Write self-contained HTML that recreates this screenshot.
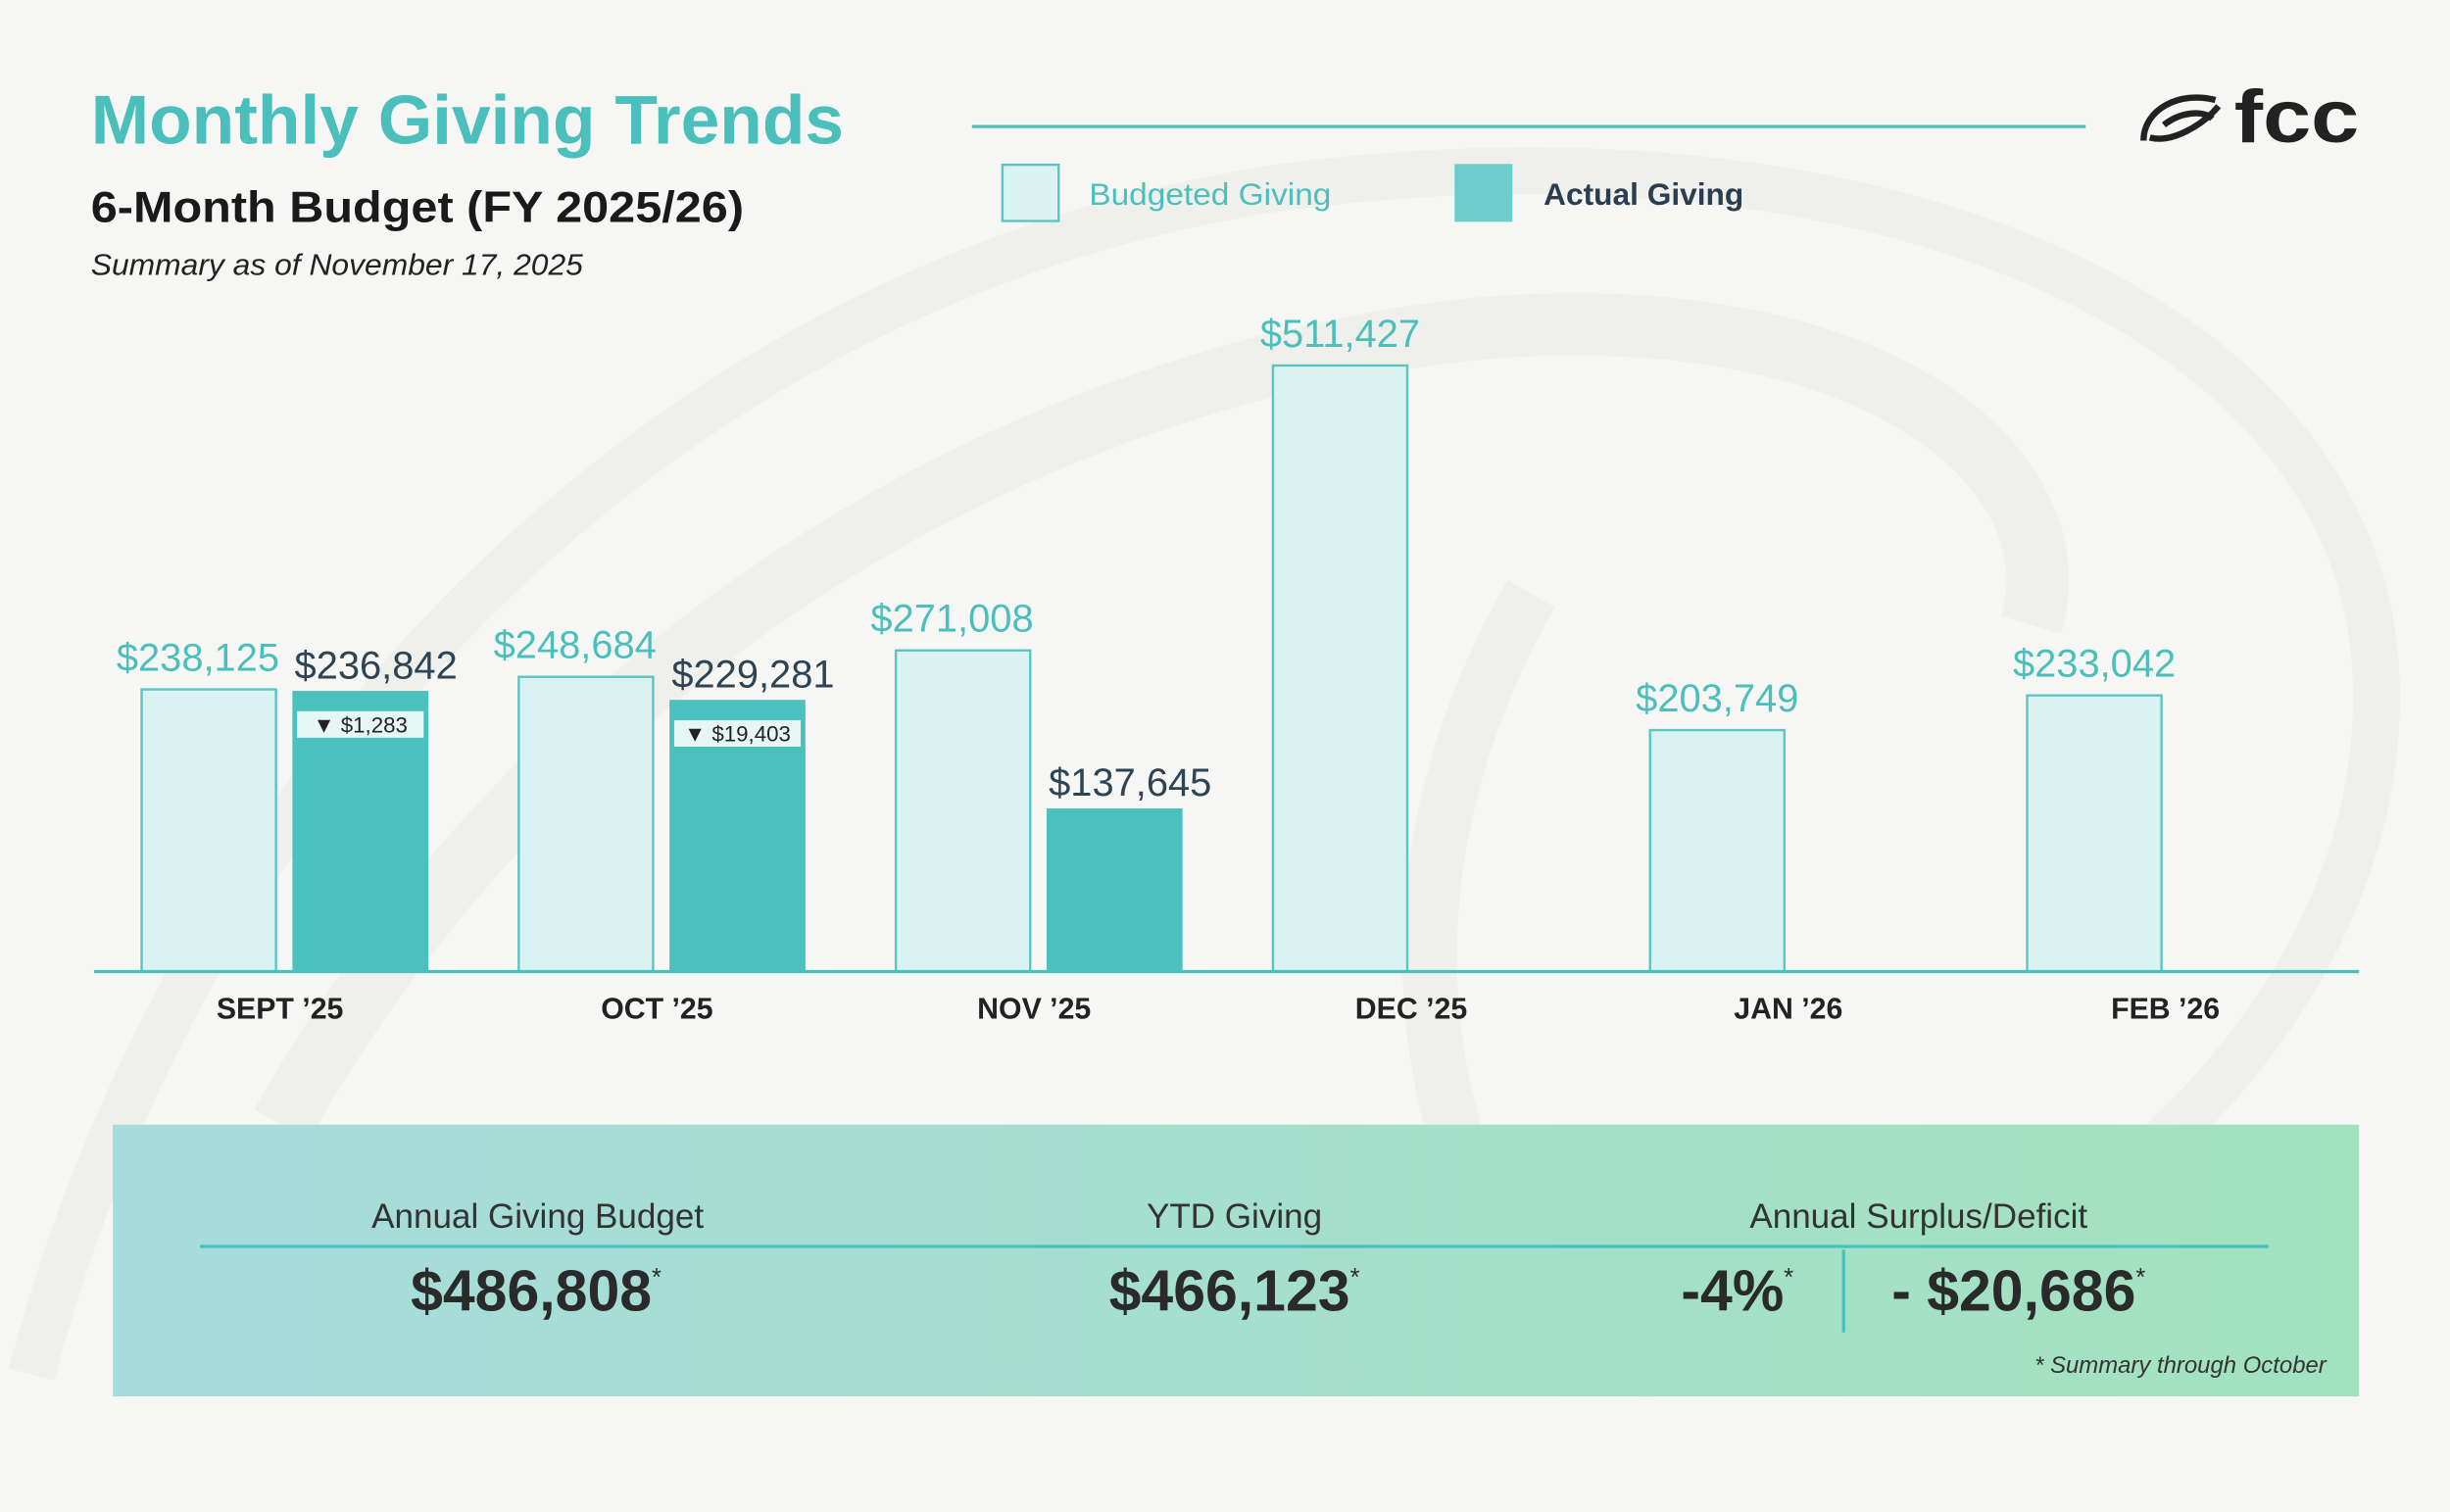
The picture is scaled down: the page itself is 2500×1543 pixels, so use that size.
<!DOCTYPE html>
<html><head><meta charset="utf-8">
<style>
html,body{margin:0;padding:0;background:#f6f6f5;width:2500px;height:1543px;overflow:hidden;}
svg{display:block;}
text{font-family:"Liberation Sans",sans-serif;}
</style></head>
<body>
<svg id="chart" width="2500" height="1543" viewBox="0 0 1568 968" xmlns="http://www.w3.org/2000/svg">
<defs>
<linearGradient id="panelGrad" x1="0" x2="1" y1="0" y2="0">
<stop offset="0" stop-color="#a7dcdc"/><stop offset="1" stop-color="#a3e2bf"/>
</linearGradient>
</defs>
<rect x="0" y="0" width="1568" height="968" fill="#f6f6f5"/>
<g fill="none" stroke="#efefec">
<path d="M20 880 C120 500 420 180 820 120 C1200 70 1500 200 1520 420 C1540 650 1300 860 1050 880" stroke-width="30"/>
<path d="M180 720 C350 420 650 240 950 210 C1200 190 1330 300 1300 400" stroke-width="40"/>
<path d="M980 380 C900 520 880 700 1000 860" stroke-width="35"/>
</g>
<text x="58" y="92" font-size="44" font-weight="bold" fill="#4bbfbb" textLength="482" lengthAdjust="spacingAndGlyphs">Monthly Giving Trends</text>
<text x="58" y="142" font-size="28" font-weight="bold" fill="#1a1a1a" textLength="418" lengthAdjust="spacingAndGlyphs">6-Month Budget (FY 2025/26)</text>
<text x="58" y="176" font-size="19" font-style="italic" fill="#222" textLength="315" lengthAdjust="spacingAndGlyphs">Summary as of November 17, 2025</text>
<line x1="622" y1="81" x2="1335" y2="81" stroke="#4bbfbb" stroke-width="2"/>
<g>
<rect x="641.5" y="105.5" width="36" height="36" fill="#d9f2f2" stroke="#5cc5c2" stroke-width="1.5"/>
<text x="697" y="131" font-size="20" fill="#4bbfbb" textLength="155" lengthAdjust="spacingAndGlyphs">Budgeted Giving</text>
<rect x="931" y="105" width="37" height="37" fill="#6ccdcb"/>
<text x="988" y="131" font-size="20" font-weight="bold" fill="#2b3e50" textLength="128" lengthAdjust="spacingAndGlyphs">Actual Giving</text>
</g>
<g>
<path d="M1372 90 C1372 70 1395 58 1418 64 M1376 88 C1390 92 1410 80 1420 68 M1385 80 C1395 72 1410 70 1416 76" fill="none" stroke="#222" stroke-width="4"/>
<text x="1430" y="91" font-size="48" font-weight="bold" fill="#222" textLength="80" lengthAdjust="spacingAndGlyphs">fcc</text>
</g>
<g id="bars"></g>
<line x1="60" y1="622" x2="1510" y2="622" stroke="#4bbfbb" stroke-width="2"/>
<g>
<rect x="72" y="720" width="1438" height="174" fill="url(#panelGrad)"/>
<text x="344" y="786" font-size="22" text-anchor="middle" fill="#333">Annual Giving Budget</text>
<text x="790" y="786" font-size="22" text-anchor="middle" fill="#333">YTD Giving</text>
<text x="1228" y="786" font-size="22" text-anchor="middle" fill="#333">Annual Surplus/Deficit</text>
<line x1="128" y1="798" x2="1452" y2="798" stroke="#4bbfbb" stroke-width="2"/>
<line x1="1180" y1="800" x2="1180" y2="853" stroke="#4bbfbb" stroke-width="2"/>
<text x="343" y="839" font-size="37" font-weight="bold" text-anchor="middle" fill="#2a2a2a">$486,808<tspan font-size="16" dy="-16" font-weight="normal">*</tspan></text>
<text x="790" y="839" font-size="37" font-weight="bold" text-anchor="middle" fill="#2a2a2a">$466,123<tspan font-size="16" dy="-16" font-weight="normal">*</tspan></text>
<text x="1112" y="839" font-size="37" font-weight="bold" text-anchor="middle" fill="#2a2a2a">-4%<tspan font-size="16" dy="-16" font-weight="normal">*</tspan></text>
<text x="1292" y="839" font-size="37" font-weight="bold" text-anchor="middle" fill="#2a2a2a">- $20,686<tspan font-size="16" dy="-16" font-weight="normal">*</tspan></text>
<text x="1489" y="879" font-size="15" font-style="italic" text-anchor="end" fill="#333">*  Summary through October</text>
</g>
</svg>
<script>
const months = ["SEPT \u201925","OCT \u201925","NOV \u201925","DEC \u201925","JAN \u201926","FEB \u201926"];
const budget = [238125, 248684, 271008, 511427, 203749, 233042];
const actual = [236842, 229281, 137645, null, null, null];
const showDiff = [true, true, false, false, false, false];

const NS = "http://www.w3.org/2000/svg";
const g = document.getElementById('bars');
const baseY = 622, pxPerUnit = 388 / 511427;
const x0 = 90, groupStep = 241.4, barW = 87, gap = 10;
function yScale(v){ return baseY - v * pxPerUnit; }
function xGroup(i){ return x0 + i * groupStep; }
function fmt(v){ return "$" + v.toLocaleString("en-US"); }
function mk(tag, attrs){ const e = document.createElementNS(NS, tag); for (const k in attrs) e.setAttribute(k, attrs[k]); g.appendChild(e); return e; }

months.forEach((m, i) => {
  const bx = xGroup(i), by = yScale(budget[i]);
  const b = mk('rect', {x: bx + 0.5, y: by, width: barW - 1, height: baseY - by, fill: '#d9f2f2', stroke: '#5cc5c2', 'stroke-width': 1.5});
  
  
  const bl = mk('text', {x: bx + barW/2 - (actual[i] !== null ? 7 : 0), y: by - 12, 'font-size': 25, 'text-anchor': 'middle', fill: '#4bbfbb'});
  bl.textContent = fmt(budget[i]);
  
  
  if (actual[i] !== null) {
    const ax = bx + barW + gap, ay = yScale(actual[i]);
    const a = mk('rect', {x: ax, y: ay, width: barW, height: baseY - ay, fill: '#4bc1bf'});
    
    
    const al = mk('text', {x: ax + barW/2 + 10, y: ay - 8, 'font-size': 25, 'text-anchor': 'middle', fill: '#2d4454'});
    al.textContent = fmt(actual[i]);
    
    
    if (showDiff[i]) {
      const d = mk('rect', {x: ax + 3, y: ay + 13, width: barW - 6, height: 17, fill: '#e6f6f5'});
      
      
      const dt = mk('text', {x: ax + barW/2, y: ay + 26.5, 'font-size': 14, 'text-anchor': 'middle', fill: '#222'});
      dt.textContent = "\u25BC " + fmt(budget[i] - actual[i]);
      
      
    }
  }
  const ml = mk('text', {x: bx + barW + gap/2 - 3, y: 652, 'font-size': 19, 'font-weight': 'bold', 'text-anchor': 'middle', fill: '#222'});
  ml.textContent = m;
  
  
});
</script>
</body></html>
